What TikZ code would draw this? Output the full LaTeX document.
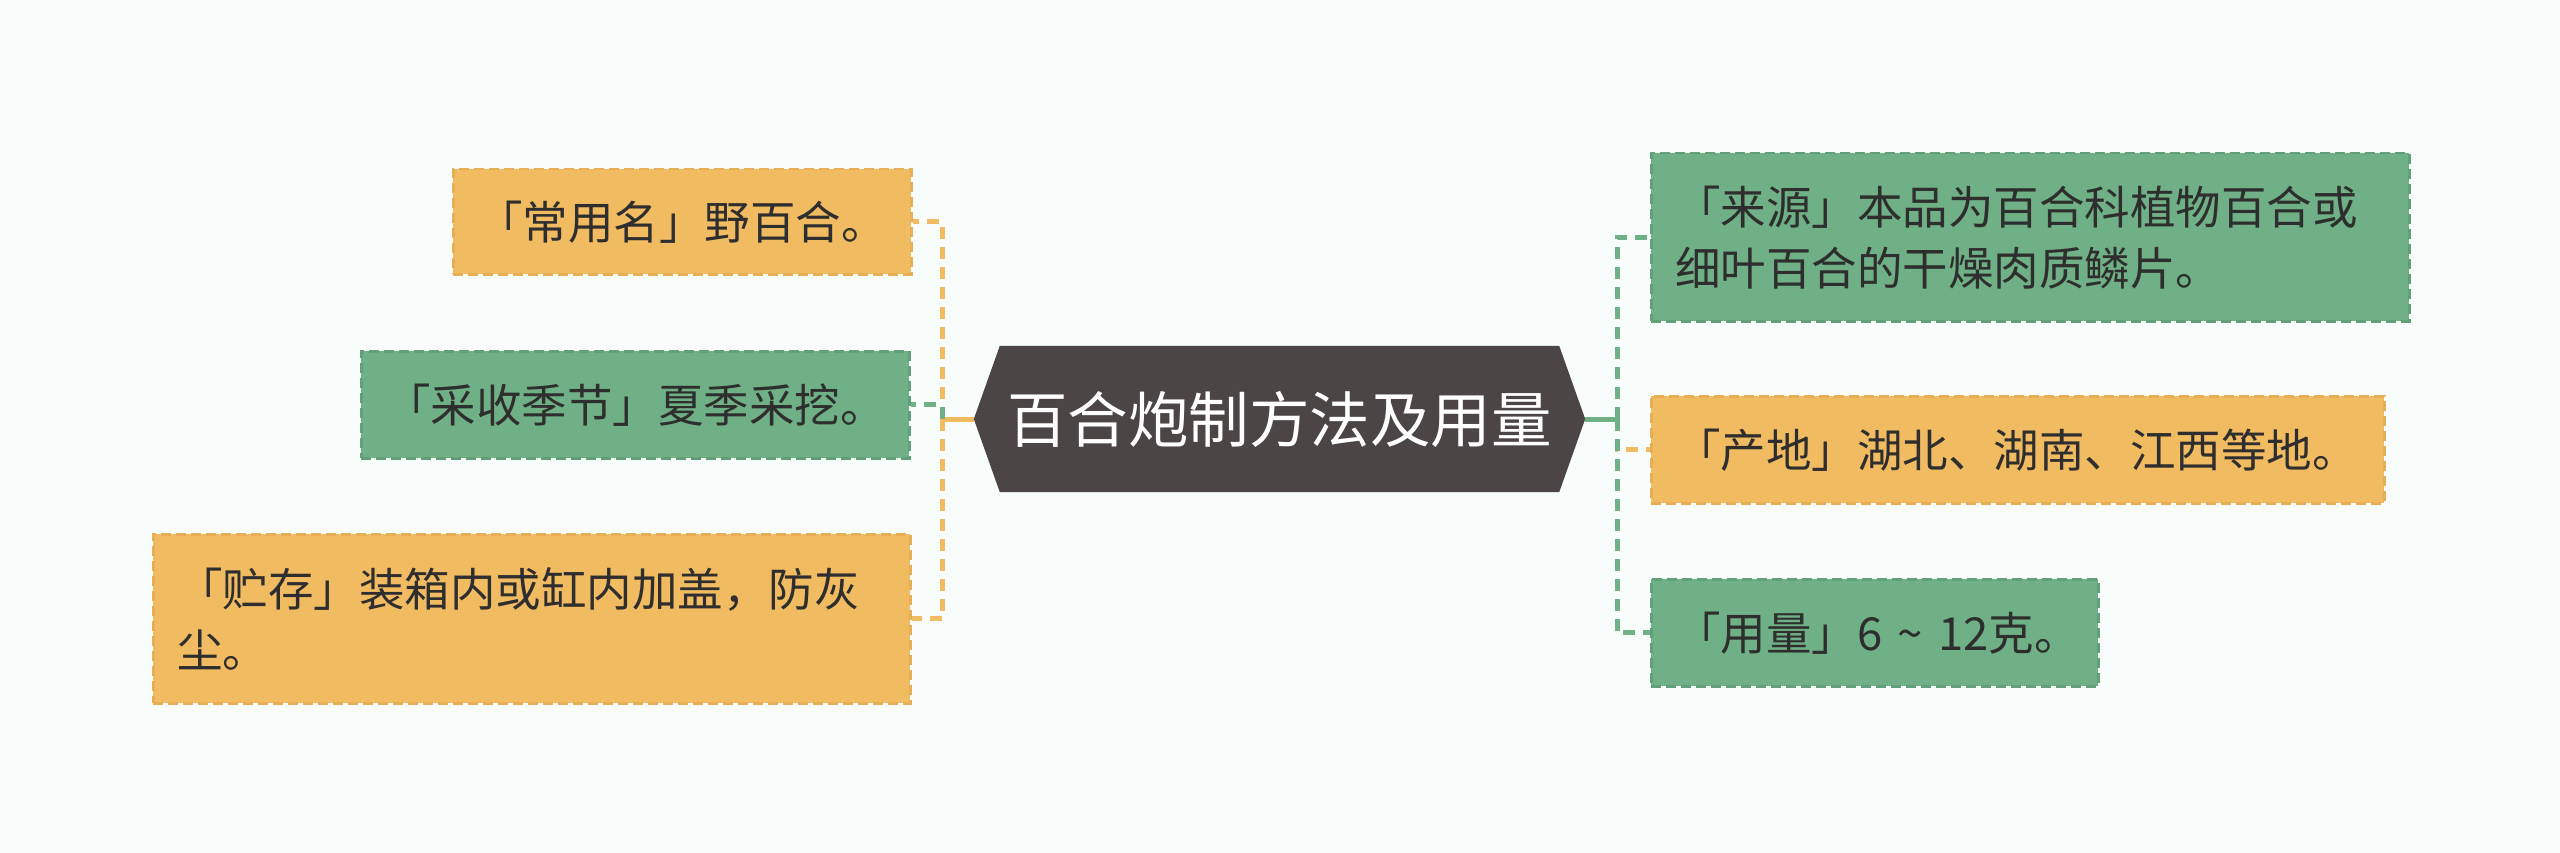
\documentclass[tikz,border=0pt]{standalone}
\usepackage{fontspec}
\setmainfont{Noto Sans CJK SC}
\usetikzlibrary{backgrounds}
\definecolor{pagebg}{HTML}{F8FDFC}
\definecolor{org}{HTML}{F1BB62}
\definecolor{orgd}{HTML}{E6AE55}
\definecolor{grn}{HTML}{6FB086}
\definecolor{grnd}{HTML}{62A079}
\definecolor{hubc}{HTML}{4B4546}
\definecolor{txt}{HTML}{2E2E2E}
\begin{document}
\begin{tikzpicture}[x=1pt,y=-1pt,
  leaf/.style={draw, line width=2.5pt, dash pattern=on 10pt off 5pt, inner ysep=0pt, inner xsep=24pt, anchor=north west, align=left, text=txt, font=\fontsize{45.5}{61}\selectfont},
  oleaf/.style={leaf, fill=org, draw=orgd},
  gleaf/.style={leaf, fill=grn, draw=grnd},
  link/.style={line width=5pt, dash pattern=on 12pt off 8pt},
  hublink/.style={line width=5pt},
  tick/.style={line width=4.5pt},
]
\useasboundingbox (0,0) rectangle (2560,853);

% hub
\node[minimum width=611pt, minimum height=146pt, inner sep=0pt, text=white, font=\fontsize{60.5}{72}\selectfont] (hub) at (1279.5,419) {百合炮制方法及用量};
\begin{pgfonlayer}{background}
\fill[pagebg] (0,0) rectangle (2560,853);
\fill[hubc] (hub.west) -- ([xshift=26pt]hub.north west) -- ([xshift=-26pt]hub.north east) -- (hub.east) -- ([xshift=-26pt]hub.south east) -- ([xshift=26pt]hub.south west) -- cycle;
\end{pgfonlayer}

% left leaves
\node[oleaf, text width=410pt, minimum height=105pt] (b1) at (452,168) {「常用名」野百合。};
\node[gleaf, text width=500pt, minimum height=107pt] (b2) at (360,350) {「采收季节」夏季采挖。};
\node[oleaf, text width=709pt, minimum height=169pt] (b3) at (152,533) {「贮存」装箱内或缸内加盖，防灰\\尘。};

% right leaves
\node[gleaf, text width=710pt, minimum height=168pt] (r1) at (1650,152) {「来源」本品为百合科植物百合或\\细叶百合的干燥肉质鳞片。};
\node[oleaf, text width=685pt, minimum height=107pt] (r2) at (1650,395) {「产地」湖北、湖南、江西等地。};
\node[gleaf, text width=399pt, minimum height=107pt] (r3) at (1650,578) {「用量」6~\textasciitilde~12克。};

% junctions
\coordinate (jl) at (942,419);
\coordinate (jr) at (1617,419);

% hub links
\draw[hublink, org] (hub.west) -- (jl);
\draw[tick, org] ([yshift=12pt]jl) -- ([yshift=-12pt]jl);
\draw[hublink, grn] (hub.east) -- (jr);
\draw[tick, grn] ([yshift=12pt]jr) -- ([yshift=-12pt]jr);

% branch links
\draw[link, org] (jl) |- (b1.east);
\draw[link, grn] (jl) |- (b2.east);
\draw[link, org] (jl) |- (b3.east);
\draw[link, grn] (jr) |- (r1.west);
\draw[link, org] (jr) |- (r2.west);
\draw[link, grn] (jr) |- (r3.west);
\end{tikzpicture}
\end{document}
